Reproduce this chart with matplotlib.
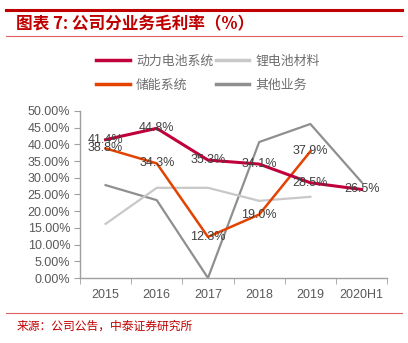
import matplotlib.pyplot as plt
from matplotlib.lines import Line2D
import numpy as np

plt.rcParams['font.family'] = ['Liberation Sans', 'Noto Sans CJK SC', 'DejaVu Sans']

years = ["2015", "2016", "2017", "2018", "2019", "2020H1"]
power_battery = [41.4, 44.8, 35.3, 34.1, 28.5, 26.5]
li_material = [16.2, 27.0, 27.0, 23.1, 24.3]
storage = [38.8, 34.3, 12.3, 19.0, 37.9]
other = [27.8, 23.3, 0.0, 40.7, 46.1, 28.7]

series_names = ["动力电池系统", "锂电池材料", "储能系统", "其他业务"]
c_power = "#C0003A"
c_li = "#C8C8C8"
c_storage = "#E34200"
c_other = "#8F8F8F"
red = "#C00000"

fig = plt.figure(figsize=(4.08, 3.43), dpi=100)
ax = fig.add_axes([0.196, 0.1895, 0.753, 0.487])

x = np.arange(len(years))
ax.plot(x[:len(other)], other, color=c_other, lw=1.6, zorder=2)
ax.plot(x[:len(li_material)], li_material, color=c_li, lw=1.6, zorder=2)
ax.plot(x[:len(storage)], storage, color=c_storage, lw=1.8, zorder=3)
ax.plot(x[:len(power_battery)], power_battery, color=c_power, lw=2.2, zorder=3)

for xs, vals in [(x, power_battery), (x, storage)]:
    for xi, v in zip(xs, vals):
        ax.text(xi, v, f"{v:.1f}%", ha="center", va="center", fontsize=9,
                color="#404040", zorder=5)

ax.set_xlim(-0.5, 5.5)
ax.set_ylim(0, 50)
ax.set_yticks(np.arange(0, 51, 5))
ax.set_yticklabels([f"{v:.2f}%" for v in np.arange(0, 51, 5)])
ax.set_xticks(x)
ax.set_xticklabels(years)
ax.set_xticks(np.arange(-0.5, 6, 1), minor=True)
ax.tick_params(axis="x", which="major", length=0, pad=8, labelsize=9, colors="#595959")
ax.tick_params(axis="x", which="minor", length=4, color="#A0A0A0", direction="out")
ax.tick_params(axis="y", length=4, color="#A0A0A0", labelsize=9, labelcolor="#595959", pad=3)
for s in ["top", "right"]:
    ax.spines[s].set_visible(False)
for s in ["left", "bottom"]:
    ax.spines[s].set_color("#A0A0A0")
    ax.spines[s].set_linewidth(1.0)

# legend: matplotlib fills column by column
handles = [Line2D([], [], color=c, lw=2.5) for c in [c_power, c_storage, c_li, c_other]]
labels = [series_names[0], series_names[2], series_names[1], series_names[3]]
fig.legend(handles, labels, ncol=2, loc="center", bbox_to_anchor=(0.51, 0.787),
           frameon=False, handlelength=2.6, columnspacing=0.2, handletextpad=0.5,
           labelspacing=0.85, labelcolor="#6E6E6E",
           prop={"family": ["Noto Sans CJK SC"], "size": 9.3})

# title and decorations
fig.add_artist(Line2D([0.015, 0.985], [0.970, 0.970], color=red, lw=2.2))
fig.add_artist(Line2D([0.015, 0.985], [0.895, 0.895], color="#E06060", lw=0.8))
fig.text(0.04, 0.928, "图表 7: 公司分业务毛利率（%）", fontsize=12, color=red,
         fontweight="bold", style="italic", va="center",
         family=["Noto Sans CJK SC", "DejaVu Sans"])
fig.add_artist(Line2D([0.015, 0.985], [0.088, 0.088], color="#E06060", lw=0.8))
fig.text(0.04, 0.048, "来源：公司公告，中泰证券研究所", fontsize=8.5, color=red,
         va="center", family=["Noto Sans CJK SC", "DejaVu Sans"])

fig.savefig("out.png", dpi=100)
